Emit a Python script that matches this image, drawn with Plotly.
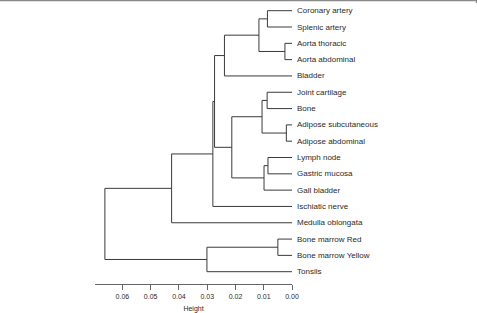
import plotly.graph_objects as go

# Leaves (top to bottom order)
leaves = ["Coronary artery", "Splenic artery", "Aorta thoracic", "Aorta abdominal",
          "Bladder", "Joint cartilage", "Bone", "Adipose subcutaneous",
          "Adipose abdominal", "Lymph node", "Gastric mucosa", "Gall bladder",
          "Ischiatic nerve", "Medulla oblongata", "Bone marrow Red",
          "Bone marrow Yellow", "Tonsils"]

# R-style merge matrix: negative = leaf (1-based), positive = earlier merge row (1-based)
merge_left = [-3, -8, -15, -10, -1, -6, 4, 6, 5, 8, 9, 11, 12, 3, 13, 15]
merge_right = [-4, -9, -16, -11, -2, -7, -12, 2, 1, 7, -5, 10, -13, -17, -14, 14]
merge_height = [0.0025, 0.0020, 0.0050, 0.0085, 0.0087, 0.0088, 0.0099, 0.0106,
                0.0117, 0.0213, 0.0239, 0.0274, 0.0280, 0.0301, 0.0426, 0.0662]

tick_vals = [0.06, 0.05, 0.04, 0.03, 0.02, 0.01, 0.00]
tick_text = ["0.06", "0.05", "0.04", "0.03", "0.02", "0.01", "0.00"]

LINE = "#3a3a3a"
TXT = "#2a2a2a"
FONT = "Liberation Sans, Arial, sans-serif"

pos = {}
def node(ref):
    if ref < 0:
        return (0.0, float(-ref - 1))
    return pos[ref]

xs, ys = [], []
for k, (a, b, h) in enumerate(zip(merge_left, merge_right, merge_height), start=1):
    ha, ya = node(a)
    hb, yb = node(b)
    xs += [ha, h, h, hb, None]
    ys += [ya, ya, yb, yb, None]
    pos[k] = (h, (ya + yb) / 2)

fig = go.Figure()
fig.add_trace(go.Scatter(x=xs, y=ys, mode="lines",
                         line=dict(color=LINE, width=1),
                         hoverinfo="skip", showlegend=False, cliponaxis=False))

annotations = []
for i, name in enumerate(leaves):
    annotations.append(dict(x=0, y=i, xref="x", yref="y", text=name,
                            showarrow=False, xanchor="left", yanchor="middle",
                            xshift=3, font=dict(size=8, color=TXT, family=FONT)))

L, R, T, B = 95, 185, 0, 29
W, H = 477, 313
pw, ph = W - L - R, H - T - B

fig.update_layout(
    width=W, height=H,
    margin=dict(l=L, r=R, t=T, b=B, pad=0),
    paper_bgcolor="white", plot_bgcolor="white",
    font=dict(family=FONT, color=TXT),
    annotations=annotations,
    xaxis=dict(range=[0.0697, 0], autorange=False,
               tickvals=tick_vals, ticktext=tick_text,
               ticks="outside", ticklen=5, tickcolor="#666", tickwidth=1,
               ticklabelstandoff=1,
               showline=True, linecolor="#666", linewidth=1,
               showgrid=False, zeroline=False,
               tickfont=dict(size=7, color=TXT, family=FONT),
               title=dict(text="Height", font=dict(size=7, color=TXT, family=FONT),
                          standoff=7)),
    yaxis=dict(range=[16.754, -0.656], autorange=False, visible=False,
               showgrid=False, zeroline=False),
    shapes=[
        dict(type="line", xref="paper", yref="paper",
             x0=-L / pw, x1=(W - L) / pw, y0=1 - 0.6 / ph, y1=1 - 0.6 / ph,
             line=dict(color="#8a8a8a", width=1.5)),
        dict(type="line", xref="paper", yref="paper",
             x0=(W - L - 0.6) / pw, x1=(W - L - 0.6) / pw, y0=1, y1=1 - 3 / ph,
             line=dict(color="#8a8a8a", width=1.2)),
    ],
)

fig.write_html("out.html")
